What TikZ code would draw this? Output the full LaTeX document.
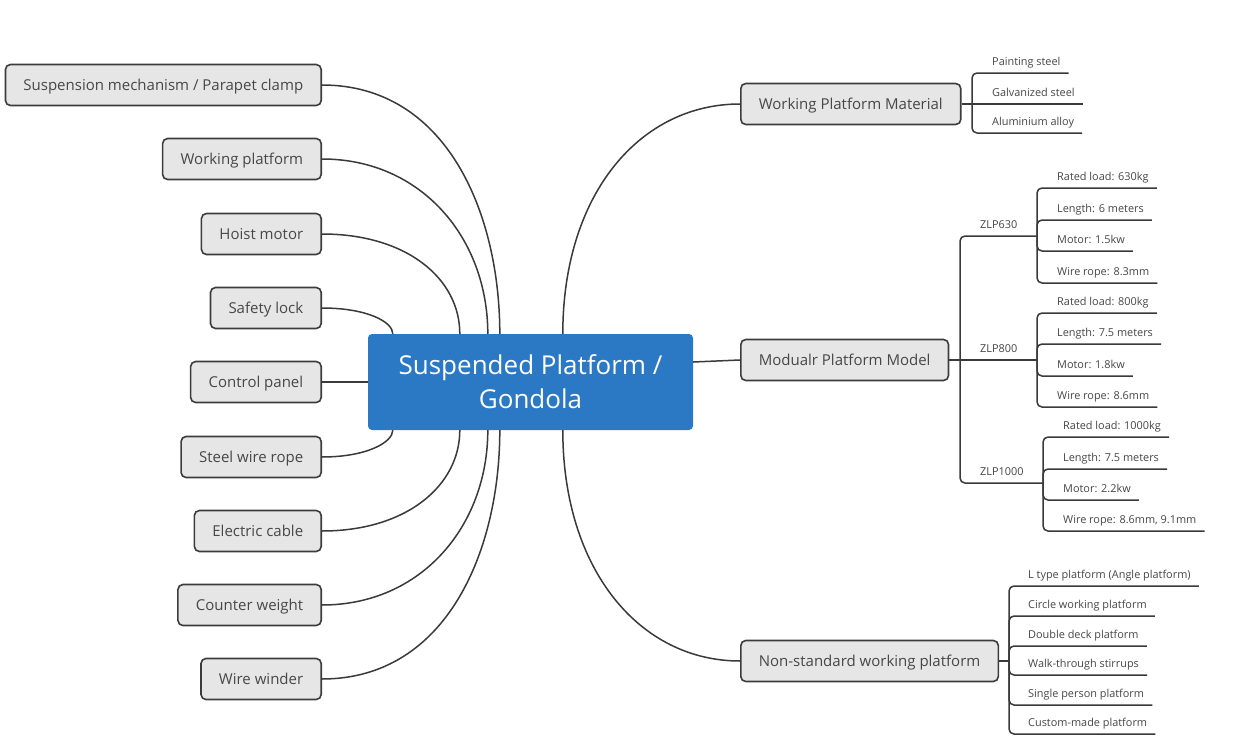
\documentclass[tikz,border=0pt]{standalone}
\usepackage{fontspec}
\setmainfont{Open Sans}
\usetikzlibrary{calc}
\definecolor{linec}{HTML}{3A3A3A}
\definecolor{boxfill}{HTML}{E6E6E6}
\definecolor{boxline}{HTML}{3C3C3C}
\definecolor{txt}{HTML}{474747}
\definecolor{mainblue}{HTML}{2B78C4}
% \leafitem{name}{junction}{x}{underline y}{text}
\newcommand\leafitem[5]{%
  \node[leaf] (#1) at (#3,#4-8) {#5};
  \draw[branch] (#2) |- ([shift={(8,8)}]#1.base east);
}
\begin{document}
\begin{tikzpicture}[x=1pt,y=-1pt,
  topic/.style={draw=boxline, line width=1.6pt, fill=boxfill, rounded corners=5pt,
    minimum height=41pt, inner xsep=18pt, text height=10.5pt, text depth=0pt,
    font=\fontsize{15}{18}\selectfont, text=txt},
  leaf/.style={inner sep=0pt, font=\fontsize{10.9}{12}\selectfont, text=txt, anchor=base west},
  link/.style={draw=linec, line width=1.5pt},
  branch/.style={link, rounded corners=5pt},
]
\useasboundingbox (0,0) rectangle (1243,736);
\fill[white] (0,0) rectangle (1243,736);

% central node
\node[fill=mainblue, rounded corners=4pt, minimum width=325pt, minimum height=96pt,
  text=white, align=center, font=\fontsize{26}{34}\selectfont] (c) at (530.5,382)
  {Suspended Platform /\\Gondola};

% left topics
\node[topic, anchor=east] (l1) at (322,85)  {Suspension mechanism / Parapet clamp};
\node[topic, anchor=east] (l2) at (322,159) {Working platform};
\node[topic, anchor=east] (l3) at (322,234) {Hoist motor};
\node[topic, anchor=east] (l4) at (322,308) {Safety lock};
\node[topic, anchor=east] (l5) at (322,382) {Control panel};
\node[topic, anchor=east] (l6) at (322,457) {Steel wire rope};
\node[topic, anchor=east] (l7) at (322,531) {Electric cable};
\node[topic, anchor=east] (l8) at (322,605) {Counter weight};
\node[topic, anchor=east] (l9) at (322,679) {Wire winder};

\draw[link] (l1.east) .. controls +(125,0) and +(0,-120) .. ([xshift=132pt]c.north west);
\draw[link] (l2.east) .. controls +(100,0) and +(0,-95) .. ([xshift=120pt]c.north west);
\draw[link] (l3.east) .. controls +(85,0) and +(0,-55) .. ([xshift=92pt]c.north west);
\draw[link] (l4.east) .. controls +(45,0) and +(0,-12) .. ([xshift=25pt]c.north west);
\draw[link] (l5.east) -- (c.west);
\draw[link] (l6.east) .. controls +(45,0) and +(0,12) .. ([xshift=25pt]c.south west);
\draw[link] (l7.east) .. controls +(85,0) and +(0,55) .. ([xshift=92pt]c.south west);
\draw[link] (l8.east) .. controls +(100,0) and +(0,95) .. ([xshift=120pt]c.south west);
\draw[link] (l9.east) .. controls +(125,0) and +(0,120) .. ([xshift=132pt]c.south west);

% right topics
\node[topic, anchor=west] (r1) at (740,104) {Working Platform Material};
\node[topic, anchor=west] (r2) at (740,360) {Modualr Platform Model};
\node[topic, anchor=west] (r3) at (740,661) {Non-standard working platform};

\draw[link] ([xshift=195pt]c.north west) .. controls +(0,-140) and +(-100,0) .. (r1.west);
\draw[link] ([yshift=20pt]c.east) -- (r2.west);
\draw[link] ([xshift=195pt]c.south west) .. controls +(0,140) and +(-100,0) .. (r3.west);

% Working Platform Material
\coordinate (j1) at (972,104);
\draw[link] (r1.east) -- (j1);
\leafitem{m1}{j1}{992}{73}{Painting steel}
\node[leaf] (m2) at (992,96) {Galvanized steel};
\draw[link] (j1) -- ([shift={(8,8)}]m2.base east);
\leafitem{m3}{j1}{992}{133}{Aluminium alloy}

% Modular Platform Model
\coordinate (j2) at (960,360);
\draw[link] (r2.east) -- (j2);
\node[leaf] (z1) at (980,228) {ZLP630};
\coordinate (k1) at (1037,236);
\draw[branch] (j2) |- (k1);
\node[leaf] (z2) at (980,352) {ZLP800};
\coordinate (k2) at (1037,360);
\draw[link] (j2) -- (k2);
\node[leaf] (z3) at (980,475) {ZLP1000};
\coordinate (k3) at (1043,483);
\draw[branch] (j2) |- (k3);

\leafitem{a1}{k1}{1057}{188}{Rated load: 630kg}
\leafitem{a2}{k1}{1057}{220}{Length: 6 meters}
\leafitem{a3}{k1}{1057}{251}{Motor: 1.5kw}
\leafitem{a4}{k1}{1057}{283}{Wire rope: 8.3mm}

\leafitem{b1}{k2}{1057}{313}{Rated load: 800kg}
\leafitem{b2}{k2}{1057}{344}{Length: 7.5 meters}
\leafitem{b3}{k2}{1057}{376}{Motor: 1.8kw}
\leafitem{b4}{k2}{1057}{407}{Wire rope: 8.6mm}

\leafitem{d1}{k3}{1063}{437}{Rated load: 1000kg}
\leafitem{d2}{k3}{1063}{469}{Length: 7.5 meters}
\leafitem{d3}{k3}{1063}{500}{Motor: 2.2kw}
\leafitem{d4}{k3}{1063}{531}{Wire rope: 8.6mm, 9.1mm}

% Non-standard
\coordinate (j4) at (1009,660);
\draw[link] (r3.east) -- (1009,661);
\leafitem{n1}{j4}{1028}{586}{L type platform (Angle platform)}
\leafitem{n2}{j4}{1028}{616}{Circle working platform}
\leafitem{n3}{j4}{1028}{646}{Double deck platform}
\leafitem{n4}{j4}{1028}{675}{Walk-through stirrups}
\leafitem{n5}{j4}{1028}{705}{Single person platform}
\leafitem{n6}{j4}{1028}{734}{Custom-made platform}
\end{tikzpicture}
\end{document}
